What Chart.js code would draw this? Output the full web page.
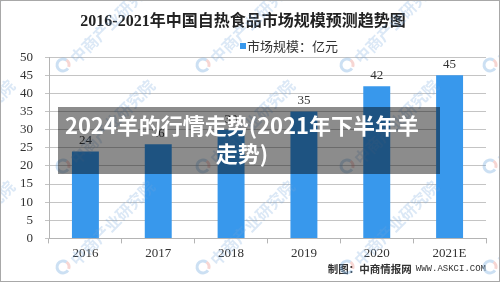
<!DOCTYPE html>
<html><head><meta charset="utf-8">
<script src="https://cdn.jsdelivr.net/npm/chart.js@4/dist/chart.umd.min.js"></script>
<style>
html,body{margin:0;padding:0;background:#fff;}
#wrap{position:relative;width:500px;height:282px;overflow:hidden;}
canvas{display:block;}
#band{position:absolute;left:58px;top:107px;width:382px;height:67px;background:rgba(0,0,0,0.45);}
#bandText{position:absolute;left:58px;top:110px;width:368px;text-align:center;color:#fff;font:bold 22px/28px "Noto Sans CJK SC",sans-serif;white-space:nowrap;}
</style></head>
<body><div id="wrap"><canvas id="c" width="500" height="282"></canvas><div id="band"></div><div id="bandText">2024羊的行情走势(2021年下半年羊<br>走势)</div></div>
<script>
const categories = ['2016', '2017', '2018', '2019', '2020', '2021E'];
const marketSize = [24, 26, 30, 35, 42, 45];
const yMin = 0;
const yMax = 50;
const yStep = 5;
const titleText = '2016-2021年中国自热食品市场规模预测趋势图';
const seriesName = '市场规模：亿元';
const footerCn = '制图：中商情报网';
const footerEn = 'WWW.ASKCI.COM';
const watermarkText = '中商产业研究院';

const BAR = '#3898ec';
const SERIF = '"Liberation Serif", "Noto Sans CJK SC", serif';

const decor = {
  id: 'decor',
  afterDatasetsDraw(chart) {
    const ctx = chart.ctx;
    ctx.save();
    ctx.font = '13px ' + SERIF;
    ctx.fillStyle = '#333';
    ctx.textAlign = 'center';
    ctx.textBaseline = 'bottom';
    const meta = chart.getDatasetMeta(0);
    meta.data.forEach((bar, i) => {
      ctx.fillText(String(chart.data.datasets[0].data[i]), bar.x, bar.y - 4);
    });
    ctx.restore();
  },
  afterDraw(chart) {
    const ctx = chart.ctx;
    ctx.save();
    ctx.fillStyle = BAR;
    ctx.fillRect(240, 43, 6, 6);
    ctx.fillStyle = '#333';
    ctx.font = '13px "Noto Sans CJK SC", sans-serif';
    ctx.textAlign = 'left';
    ctx.textBaseline = 'middle';
    ctx.fillText(seriesName, 247, 46);
    ctx.textAlign = 'right';
    ctx.font = '9px "Liberation Mono", monospace';
    ctx.fillText(footerEn, 486, 269);
    const wEn = ctx.measureText(footerEn).width;
    ctx.font = 'bold 10.5px "Noto Sans CJK SC", sans-serif';
    ctx.fillText(footerCn, 486 - wEn - 4, 269);
    const xs = [-77, 63, 203, 347, 490];
    const ys = [65, 166, 267];
    ys.forEach(y => xs.forEach(x => {
      ctx.save();
      ctx.translate(x, y);
      ctx.strokeStyle = 'rgba(110,165,220,0.35)';
      ctx.lineWidth = 3;
      ctx.beginPath();
      ctx.arc(0, 0, 6, 0.6, Math.PI * 1.7);
      ctx.stroke();
      ctx.strokeStyle = 'rgba(230,120,110,0.3)';
      ctx.beginPath();
      ctx.arc(0, 0, 6, Math.PI * 1.7, Math.PI * 2.1);
      ctx.stroke();
      ctx.rotate(-Math.PI / 4);
      ctx.font = 'bold 16px "Noto Sans CJK SC", sans-serif';
      ctx.fillStyle = 'rgba(110,165,220,0.25)';
      ctx.textAlign = 'left';
      ctx.textBaseline = 'middle';
      ctx.fillText(watermarkText, 10, 4);
      ctx.restore();
    }));
    ctx.strokeStyle = '#a8a8a8';
    ctx.lineWidth = 1;
    ctx.strokeRect(0.5, 0.5, 499, 281);
    ctx.restore();
  }
};

new Chart(document.getElementById('c'), {
  type: 'bar',
  data: {
    labels: categories,
    datasets: [{
      label: seriesName,
      data: marketSize,
      backgroundColor: BAR,
      borderWidth: 0,
      barPercentage: 0.37,
      categoryPercentage: 1.0
    }]
  },
  options: {
    responsive: false,
    animation: false,
    devicePixelRatio: 1,
    layout: { padding: { left: 0, right: 14, top: 0, bottom: 19 } },
    plugins: {
      legend: { display: false },
      tooltip: { enabled: false },
      title: {
        display: true,
        text: titleText,
        color: '#222',
        font: { family: SERIF, size: 16, weight: 'bold', lineHeight: 1.2 },
        padding: { top: 12, bottom: 26 }
      }
    },
    scales: {
      x: {
        offset: true,
        grid: { display: true, drawOnChartArea: false, drawTicks: true, tickLength: 5, offset: true, color: '#b4b4b4' },
        border: { display: true, color: '#b4b4b4' },
        ticks: { color: '#333', font: { family: SERIF, size: 13 }, padding: 2, maxRotation: 0, autoSkip: false }
      },
      y: {
        min: yMin,
        max: yMax,
        afterFit(scale) { scale.width = 49; },
        grid: { color: '#c4c4c4', tickLength: 4 },
        border: { display: true, color: '#b4b4b4' },
        ticks: { stepSize: yStep, autoSkip: false, color: '#333', font: { family: SERIF, size: 13 }, padding: 12 }
      }
    }
  },
  plugins: [decor]
});
</script>
</body></html>
